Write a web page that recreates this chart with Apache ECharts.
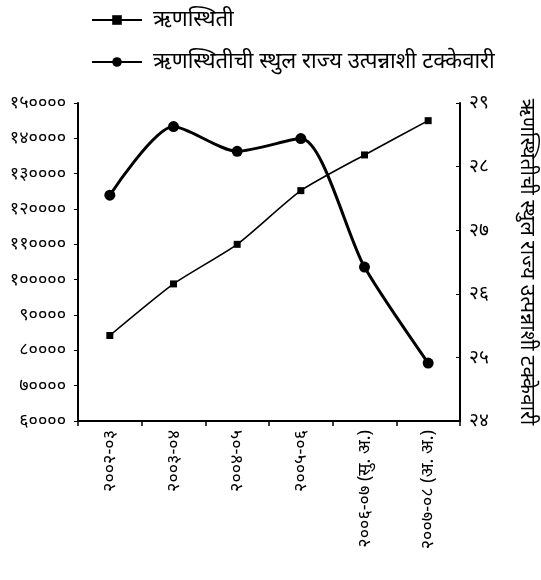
<!DOCTYPE html>
<html>
<head>
<meta charset="utf-8">
<script src="https://cdn.jsdelivr.net/npm/echarts@6/dist/echarts.min.js"></script>
<style>
html,body{margin:0;padding:0;background:#fff;}
#c{width:541px;height:580px;}
</style>
</head>
<body>
<div id="c"></div>
<script>
var categories = ['२००२-०३', '२००३-०४', '२००४-०५', '२००५-०६', '२००६-०७ (सु. अ.)', '२००७-०८ (अ. अ.)'];
var debtValues = [84200, 98800, 110000, 125200, 135300, 145000];
var debtPctValues = [27.55, 28.63, 28.24, 28.44, 26.42, 24.91];
var leftTickLabels = ['६००००', '७००००', '८००००', '९००००', '१०००००', '११००००', '१२००००', '१३००००', '१४००००', '१५००००'];
var rightTickLabels = ['२४', '२५', '२६', '२७', '२८', '२९'];
var seriesNames = ['ऋणस्थिती', 'ऋणस्थितीची स्थुल राज्य उत्पन्नाशी टक्केवारी'];
var rightAxisName = 'ऋणस्थितीची स्थुल राज्य उत्पन्नाशी टक्केवारी';

var font = '"Noto Sans", sans-serif';
var chart = echarts.init(document.getElementById('c'), null, {renderer: 'canvas'});
chart.setOption({
  backgroundColor: '#fff',
  animation: false,
  textStyle: {fontFamily: font, color: '#000'},
  legend: {
    orient: 'vertical',
    left: 86,
    top: 4,
    itemGap: 20,
    itemWidth: 50,
    itemHeight: 12,
    textStyle: {fontSize: 22, color: '#000', fontFamily: font, padding: [0, 0, 0, 6]},
    data: seriesNames
  },
  grid: {left: 78, right: 81, top: 103, bottom: 159, containLabel: false, outerBoundsMode: 'none'},
  xAxis: {
    type: 'category',
    data: categories,
    boundaryGap: true,
    axisLine: {lineStyle: {color: '#000', width: 2}},
    axisTick: {show: true, length: 5, lineStyle: {color: '#000', width: 1.5}, inside: false},
    axisLabel: {rotate: 90, fontSize: 18, color: '#000', margin: 9, fontFamily: font}
  },
  yAxis: [
    {
      type: 'value',
      min: 60000, max: 150000, interval: 10000,
      splitLine: {show: false},
      axisLine: {show: true, lineStyle: {color: '#000', width: 2}},
      axisTick: {show: true, length: 4, lineStyle: {color: '#000'}},
      axisLabel: {
        fontSize: 18, color: '#000', margin: 12, fontFamily: font,
        formatter: function (v) { return leftTickLabels[Math.round((v - 60000) / 10000)]; }
      }
    },
    {
      type: 'value',
      min: 24, max: 29, interval: 1,
      position: 'right',
      splitLine: {show: false},
      axisLine: {show: true, lineStyle: {color: '#000', width: 2}},
      axisTick: {show: true, length: 4, inside: true, lineStyle: {color: '#000'}},
      axisLabel: {
        fontSize: 19, color: '#000', margin: 9, fontFamily: font,
        formatter: function (v) { return rightTickLabels[Math.round(v - 24)]; }
      },
      name: rightAxisName,
      nameLocation: 'middle',
      nameRotate: -90,
      nameGap: 56,
      nameTextStyle: {fontSize: 21, color: '#000', fontFamily: font}
    }
  ],
  series: [
    {
      name: seriesNames[0],
      type: 'line',
      yAxisIndex: 0,
      data: debtValues,
      smooth: 0.2,
      symbol: 'rect',
      symbolSize: 7,
      itemStyle: {color: '#000'},
      lineStyle: {color: '#000', width: 1.6}
    },
    {
      name: seriesNames[1],
      type: 'line',
      yAxisIndex: 1,
      data: debtPctValues,
      smooth: 0.25,
      symbol: 'circle',
      symbolSize: 11,
      itemStyle: {color: '#000'},
      lineStyle: {color: '#000', width: 3}
    }
  ]
});
</script>
</body>
</html>
